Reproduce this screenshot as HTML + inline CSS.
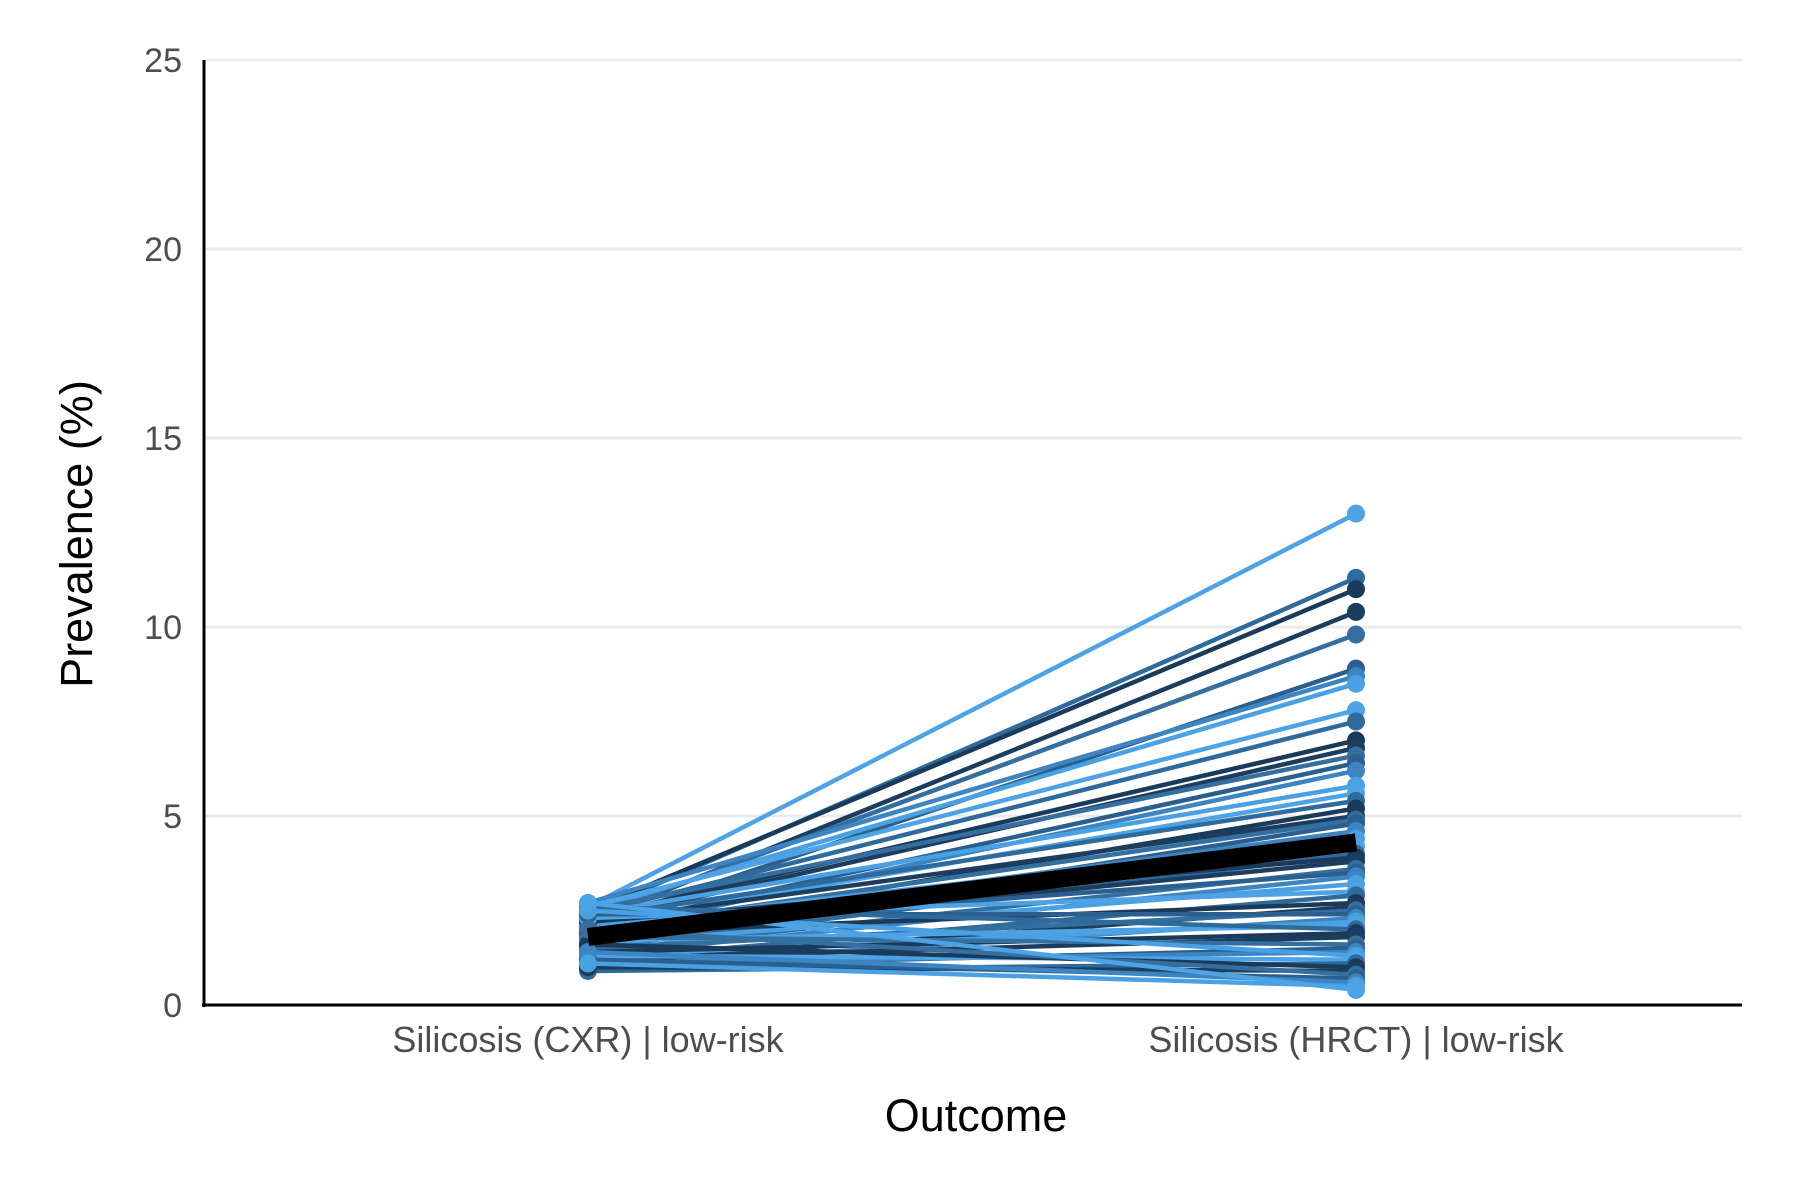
<!DOCTYPE html>
<html><head><meta charset="utf-8"><style>
html,body{margin:0;padding:0;background:#fff;}
svg{display:block;font-family:"Liberation Sans",sans-serif;}
</style></head><body>
<svg id="chart" width="1800" height="1200" viewBox="0 0 1800 1200">
<g id="grid"></g>
<g id="lines"></g>
<g id="axes"></g>
<text x="92" y="534" transform="rotate(-90 92 534)" text-anchor="middle" font-size="45" fill="#000">Prevalence (%)</text>
<text x="976" y="1131" text-anchor="middle" font-size="45" fill="#000">Outcome</text>
</svg>
<script>
const categories = ["Silicosis (CXR) | low-risk", "Silicosis (HRCT) | low-risk"];
const yTicks = [0, 5, 10, 15, 20, 25];
const cxrValues = [2.6,2.4,2.5,2.2,2.3,2.1,2.7,2.5,2.6,2.4,2.3,2.2,2.5,2.0,1.9,2.4,2.1,2.3,1.8,2.2,2.0,1.6,1.9,2.1,1.7,1.5,2.2,1.8,1.4,2.0,1.3,1.6,2.3,1.2,1.9,1.1,1.5,2.4,1.0,1.3,1.7,2.6,1.4,1.2,1.8,1.0,1.1,2.5,1.3,0.9,1.6,1.0,2.0,1.2,1.4,1.1,2.7];
const hrctValues = [13.0,11.3,11.0,10.4,9.8,8.9,8.7,8.5,7.8,7.5,7.0,6.8,6.6,6.4,6.2,5.8,5.6,5.4,5.2,5.0,4.9,4.8,4.6,4.4,4.2,4.0,3.9,3.8,3.6,3.5,3.4,3.2,3.0,2.9,2.7,2.6,2.5,2.4,2.3,2.2,2.1,2.0,1.9,1.8,1.6,1.5,1.4,1.3,1.2,1.1,1.0,0.9,0.8,0.7,0.6,0.5,0.4];
const meanValues = [1.8, 4.3];
const palette = ["#2e6a9c","#3d85c2","#1c3d5e","#4ea3e6","#2a5f8f","#1a3a5a","#49a0e2","#356f9f"];
const NS="http://www.w3.org/2000/svg";
const X0=204, X1=1742, Y0=1005, Y25=60;
function y(v){return Y0-(v/25)*(Y0-Y25);}
function x(i){return [588,1356][i];}
function mk(tag,attrs,parent){const e=document.createElementNS(NS,tag);for(const k in attrs)e.setAttribute(k,attrs[k]);parent.appendChild(e);return e;}
const grid=document.getElementById('grid'),lines=document.getElementById('lines'),axes=document.getElementById('axes');
yTicks.forEach(t=>{
  if(t>0){const g=mk('line',{x1:X0,x2:X1,y1:y(t),y2:y(t),stroke:'#ebebeb','stroke-width':3},grid);
  
  }
  const tx=mk('text',{x:182,y:y(t)+12,'text-anchor':'end','font-size':34,fill:'#4d4d4d'},axes);
  tx.textContent=t;
  
  
});
categories.forEach((c,i)=>{
  const tx=mk('text',{x:x(i),y:1052,'text-anchor':'middle','font-size':36,fill:'#4d4d4d'},axes);
  tx.textContent=c;
  
  
});
const ya=mk('line',{x1:X0,x2:X0,y1:Y25,y2:Y0+2,stroke:'#000','stroke-width':3},axes);


const xa=mk('line',{x1:X0-2,x2:X1,y1:Y0,y2:Y0,stroke:'#000','stroke-width':3},axes);


cxrValues.forEach((a,i)=>{
  const b=hrctValues[i], col=palette[(i*5+3)%palette.length];
  const g=mk('g',{},lines);
  
  
  mk('line',{x1:x(0),y1:y(a),x2:x(1),y2:y(b),stroke:col,'stroke-width':4.5},g);
  mk('circle',{cx:x(0),cy:y(a),r:9,fill:col},g);
  mk('circle',{cx:x(1),cy:y(b),r:9,fill:col},g);
});
const m=mk('line',{x1:x(0),y1:y(meanValues[0]),x2:x(1),y2:y(meanValues[1]),stroke:'#000','stroke-width':18},lines);


</script>
</body></html>
